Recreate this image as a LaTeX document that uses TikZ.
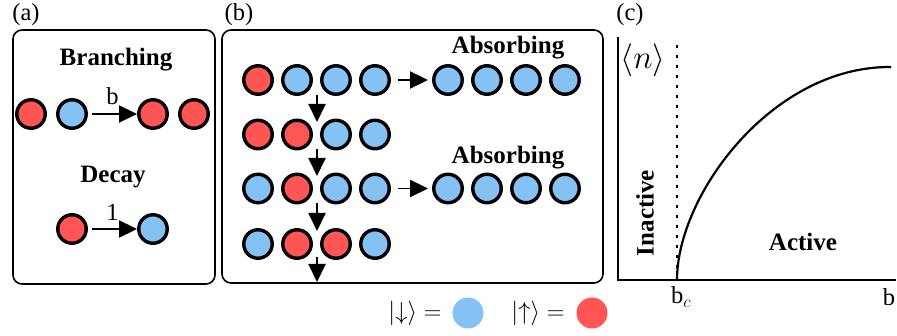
\documentclass[tikz,border=0pt]{standalone}
\usepackage{fix-cm}
\usepackage{fontspec}
\setmainfont{Liberation Serif}
\usetikzlibrary{arrows.meta}
\definecolor{cred}{RGB}{255,85,85}
\definecolor{cblue}{RGB}{133,193,242}
\begin{document}
\begin{tikzpicture}[x=1pt,y=-1pt,
  spin/.style={circle, draw=black, line width=3.4pt, minimum size=28.5pt, inner sep=0pt},
  up/.style={spin, fill=cred},
  dn/.style={spin, fill=cblue},
  arr/.style={line width=1.9pt, -{Triangle[length=18pt,width=17pt]}},
  panel/.style={draw, line width=1.6pt, rounded corners=9pt},
  lbl/.style={font=\fontsize{24.5}{28}\selectfont, inner sep=1pt},
  ttl/.style={font=\fontsize{25}{28}\selectfont\bfseries, inner sep=0pt},
  dot/.style={circle, minimum size=31pt, inner sep=0pt}]
\useasboundingbox (0,0) rectangle (897,336);

% ---------- panel (a)
\node[lbl] (la) at (26,15) {(a)};
\draw[panel] (13,30) rectangle (215,284);
\node[ttl] (tb) at (116,60) {Branching};
\node[up] (a1) at (31,114) {};
\node[dn] (a2) at (72,114) {};
\node[up] (a3) at (153,114) {};
\node[up] (a4) at (194,114) {};
\draw[arr, shorten <=4pt] (a2) -- (a3) node[midway, above, lbl, yshift=7pt] (lb) {b};
\node[ttl] (td) at (113,177) {Decay};
\node[up] (d1) at (72,229) {};
\node[dn] (d2) at (153,229) {};
\draw[arr, shorten <=4pt] (d1) -- (d2) node[midway, above, lbl, yshift=7pt] (l1) {1};

% ---------- panel (b)
\node[lbl] (lbb) at (239,15) {(b)};
\draw[panel] (222,30) rectangle (603,283);
\node[ttl] (ab1) at (508,48) {Absorbing};
\node[ttl] (ab2) at (508,158) {Absorbing};
% row 1
\node[up] (r1a) at (258,80) {};
\node[dn] (r1b) at (297,80) {};
\node[dn] (r1c) at (336,80) {};
\node[dn] (r1d) at (375,80) {};
% row 2
\node[up] (r2a) at (258,134.5) {};
\node[up] (r2b) at (297,134.5) {};
\node[dn] (r2c) at (336,134.5) {};
\node[dn] (r2d) at (375,134.5) {};
% row 3
\node[dn] (r3a) at (258,188.5) {};
\node[up] (r3b) at (297,188.5) {};
\node[dn] (r3c) at (336,188.5) {};
\node[dn] (r3d) at (375,188.5) {};
% row 4
\node[dn] (r4a) at (258,244) {};
\node[up] (r4b) at (297,244) {};
\node[up] (r4c) at (336,244) {};
\node[dn] (r4d) at (375,244) {};
% absorbing rows
\node[dn] (s1a) at (448,80) {};
\node[dn] (s1b) at (487,80) {};
\node[dn] (s1c) at (526,80) {};
\node[dn] (s1d) at (565,80) {};
\node[dn] (s2a) at (448,188.5) {};
\node[dn] (s2b) at (487,188.5) {};
\node[dn] (s2c) at (526,188.5) {};
\node[dn] (s2d) at (565,188.5) {};
\draw[arr, shorten <=7pt, shorten >=4pt] (r1d) -- (s1a);
\draw[arr, shorten <=7pt, shorten >=4pt] (r3d) -- (s2a);
% vertical arrows
\coordinate (v1s) at (317,95);  \coordinate (v1e) at (317,122);
\coordinate (v2s) at (317,149); \coordinate (v2e) at (317,176);
\coordinate (v3s) at (317,203); \coordinate (v3e) at (317,231);
\coordinate (v4s) at (317,257); \coordinate (v4e) at (317,282);
\draw[arr] (v1s) -- (v1e);
\draw[arr] (v2s) -- (v2e);
\draw[arr] (v3s) -- (v3e);
\draw[arr] (v4s) -- (v4e);

% legend
\node[lbl] (ldn) at (415,313) {$|{\downarrow}\rangle=$};
\node[dot, fill=cblue] (cdn) at (468,313) {};
\node[lbl] (lup) at (538,313) {$|{\uparrow}\rangle=$};
\node[dot, fill=cred] (cup) at (592,313) {};

% ---------- panel (c)
\node[lbl] (lc) at (630,15) {(c)};
\coordinate (ytop) at (618,37);
\coordinate (orig) at (618,280);
\coordinate (xend) at (896,280);
\draw[line width=2.6pt] (ytop) -- (orig) -- (xend);
\coordinate (dtop) at (677,45);
\coordinate (dbot) at (677,275);
\draw[line width=2.8pt, dash pattern=on 2.8pt off 7.2pt] (dtop) -- (dbot);
\coordinate (cs) at (677,280);
\coordinate (ce) at (891,67);
\draw[line width=2.2pt] (cs) .. controls (677,195) and (772,66) .. (ce);
\node[lbl, font=\fontsize{33}{38}\selectfont] (ln) at (643,60) {$\langle n\rangle$};
\node[ttl, rotate=90] (lin) at (645,213) {Inactive};
\node[ttl] (lact) at (803,242) {Active};
\node[lbl] (lbc) at (681,297) {b$_c$};
\node[lbl] (lbx) at (889,297) {b};
\end{tikzpicture}
\end{document}
